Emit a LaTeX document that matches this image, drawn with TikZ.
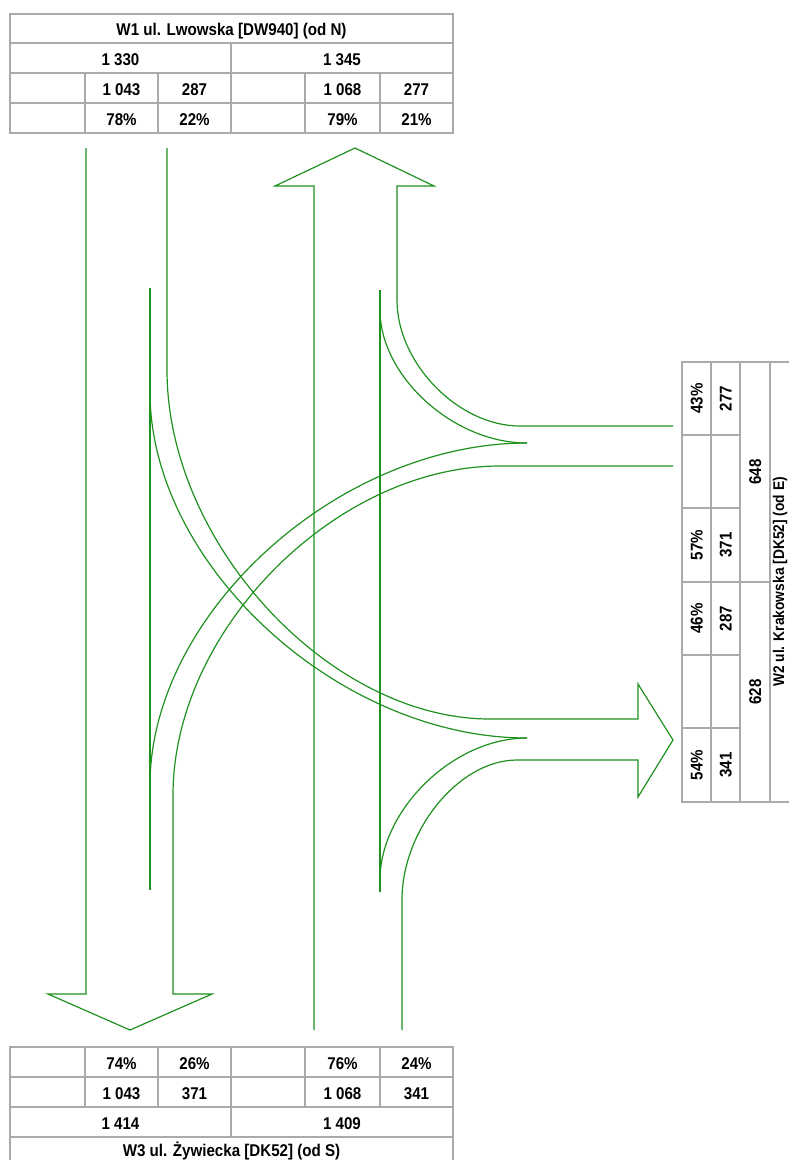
\documentclass[tikz,border=0pt]{standalone}
\usepackage{fontspec}
\setmainfont{Liberation Sans}[FakeStretch=0.89]

\definecolor{flowgreen}{RGB}{30,145,30}
\definecolor{gridgray}{RGB}{170,170,170}

\newcommand*{\tabl}{10}
\newcommand*{\tabr}{453}
\newcommand*{\tabmid}{231}

\begin{document}
\begin{tikzpicture}
[
	x=1pt, y=-1pt,
	flow/.style={flowgreen,line width=1.2pt},
	grid/.style={gridgray,line width=1.6pt},
	lbl/.style={font=\fontsize{17}{20}\selectfont\bfseries,inner sep=0pt,text height=12.2pt,text depth=0pt},
	vlbl/.style={lbl,rotate=90}
]

	\useasboundingbox (0,0) rectangle (788,1160);

	% W1 table
	\draw[grid] (\tabl,14) rectangle (\tabr,133);
	\draw[grid] (\tabl,43) -- (\tabr,43) (\tabl,73) -- (\tabr,73) (\tabl,103) -- (\tabr,103);
	\draw[grid] (\tabmid,43) -- (\tabmid,133)
		(85,73) -- (85,133) (158,73) -- (158,133) (305,73) -- (305,133) (380,73) -- (380,133);

	\node[lbl] (w1) at (231.5,29) {W1 ul. Lwowska [DW940] (od N)};
	\node[lbl] (w1in) at (120.5,59) {1 330};
	\node[lbl] (w1out) at (342,59) {1 345};
	\node[lbl] (w1thru) at (121.5,89) {1 043};
	\node[lbl] (w1left) at (194.5,89) {287};
	\node[lbl] (w1fromS) at (342.5,89) {1 068};
	\node[lbl] (w1fromE) at (416.5,89) {277};
	\node[lbl] (w1thrup) at (121.5,119) {78\%};
	\node[lbl] (w1leftp) at (194.5,119) {22\%};
	\node[lbl] (w1fromSp) at (342.5,119) {79\%};
	\node[lbl] (w1fromEp) at (416.5,119) {21\%};

	% W3 table
	\draw[grid] (\tabl,1047) rectangle (\tabr,1167);
	\draw[grid] (\tabl,1077) -- (\tabr,1077) (\tabl,1107) -- (\tabr,1107) (\tabl,1137) -- (\tabr,1137);
	\draw[grid] (\tabmid,1047) -- (\tabmid,1137)
		(85,1047) -- (85,1107) (158,1047) -- (158,1107) (305,1047) -- (305,1107) (380,1047) -- (380,1107);

	\node[lbl] (w3fromNp) at (121.5,1063) {74\%};
	\node[lbl] (w3fromEp) at (194.5,1063) {26\%};
	\node[lbl] (w3thrup) at (342.5,1063) {76\%};
	\node[lbl] (w3rightp) at (416.5,1063) {24\%};
	\node[lbl] (w3fromN) at (121.5,1093) {1 043};
	\node[lbl] (w3fromE) at (194.5,1093) {371};
	\node[lbl] (w3thru) at (342.5,1093) {1 068};
	\node[lbl] (w3right) at (416.5,1093) {341};
	\node[lbl] (w3out) at (120.5,1123) {1 414};
	\node[lbl] (w3in) at (342,1123) {1 409};
	\node[lbl] (w3) at (231.5,1150) {W3 ul. Żywiecka [DK52] (od S)};

	% W2 table
	\draw[grid] (682,362) rectangle (800,802);
	\draw[grid] (711,362) -- (711,802) (740,362) -- (740,802) (770,362) -- (770,802);
	\draw[grid] (682,435) -- (740,435) (682,508) -- (740,508) (682,582) -- (770,582)
		(682,655) -- (740,655) (682,728) -- (740,728);

	\node[vlbl] (w2rightp) at (696.5,398.5) {43\%};
	\node[vlbl] (w2right) at (725.5,398.5) {277};
	\node[vlbl] (w2leftp) at (696.5,545) {57\%};
	\node[vlbl] (w2left) at (725.5,545) {371};
	\node[vlbl] (w2fromNp) at (696.5,618.5) {46\%};
	\node[vlbl] (w2fromN) at (725.5,618.5) {287};
	\node[vlbl] (w2fromSp) at (696.5,765) {54\%};
	\node[vlbl] (w2fromS) at (725.5,765) {341};
	\node[vlbl] (w2in) at (755,472) {648};
	\node[vlbl] (w2out) at (755,692) {628};
	\node[vlbl,font=\fontsize{15.5}{18}\selectfont\bfseries] (w2) at (778,582) {W2 ul. Krakowska [DK52] (od E)};

	% outlines of the bands
	\draw[flow] (86,148) -- (86,994) -- (48,994) -- (130,1030) -- (212,994) -- (173,994) -- (173,795)
		.. controls (173,630) and (336,466) .. (500,466) -- (673,466);
	\draw[flow] (167,148) -- (167,370) .. controls (167,544) and (330,719) .. (490,719)
		-- (638,719) -- (638,684) -- (673,740) -- (638,797) -- (638,760) -- (517,760)
		.. controls (459,760) and (402,830) .. (402,900) -- (402,1030);
	\draw[flow] (314,1030) -- (314,186) -- (275,186) -- (355,148) -- (434,186) -- (397,186) -- (397,300)
		.. controls (397,363) and (458,426) .. (520,426) -- (673,426);

	% dividers
	\draw[flow] (150,288) -- (150,890);
	\draw[flow] (380,290) -- (380,892);
	\draw[flow] (150,392) .. controls (150,565) and (339,738) .. (527,738);
	\draw[flow] (380,880) .. controls (380,810) and (453,738) .. (527,738);
	\draw[flow] (380,310) .. controls (380,376) and (453,443) .. (527,443);
	\draw[flow] (150,785) .. controls (150,614) and (338,443) .. (527,443);

\end{tikzpicture}
\end{document}
